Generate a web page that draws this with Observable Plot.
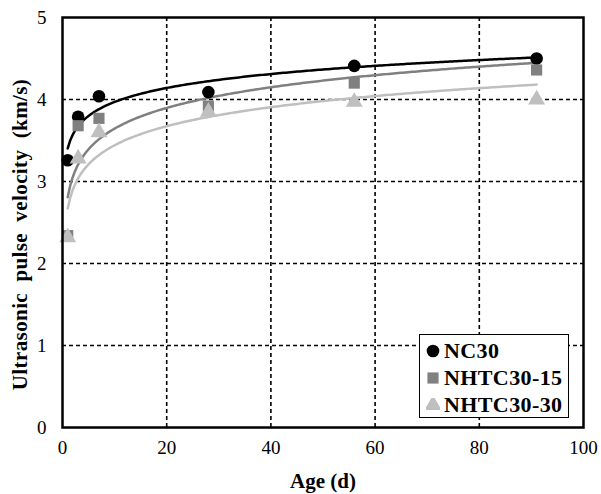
<!DOCTYPE html>
<html><head><meta charset="utf-8">
<script src="https://cdn.jsdelivr.net/npm/d3@7"></script>
<script src="https://cdn.jsdelivr.net/npm/@observablehq/plot@0.6"></script>
<style>
body{margin:0;background:#fff;}
#wrap{position:relative;width:601px;height:494px;font-family:"Liberation Serif","Times New Roman",serif;}
#wrap svg{font-family:"Liberation Serif","Times New Roman",serif;color:#000;}
#legend{position:absolute;left:419px;top:334px;width:150px;height:84px;border:1px solid #000;background:#fff;box-sizing:border-box;padding-top:2px;}
#legend .row{display:flex;align-items:center;height:27px;font-weight:bold;font-size:22px;letter-spacing:0.4px;}
#legend svg{margin-left:6px;margin-right:4px;}
</style></head><body><div id="wrap"></div>
<script>
const ages = [1, 3, 7, 28, 56, 91];
const nc30 = [3.26, 3.79, 4.04, 4.09, 4.41, 4.50];
const nhtc30_15 = [2.34, 3.68, 3.77, 3.92, 4.20, 4.36];
const nhtc30_30 = [2.32, 3.28, 3.60, 3.85, 3.97, 4.00];
const seriesNames = ["NC30", "NHTC30-15", "NHTC30-30"];
const seriesColors = ["#000000", "#808080", "#bfbfbf"];
const seriesSymbols = ["circle", "square", "triangle"];
const xTicks = [0, 20, 40, 60, 80, 100];
const yTicks = [0, 1, 2, 3, 4, 5];
const xGrid = [20, 40, 60, 80];
const yGrid = [1, 2, 3, 4];

const seriesValues = [nc30, nhtc30_15, nhtc30_30];
const points = [];
seriesValues.forEach((vals, s) => vals.forEach((v, i) => points.push({series: seriesNames[s], age: ages[i], v})));

// logarithmic trendlines (least squares of v on ln(age)), as in the source chart
const curves = [];
seriesValues.forEach((vals, s) => {
  const lx = ages.map(Math.log);
  const mx = d3.mean(lx), my = d3.mean(vals);
  const sxy = d3.sum(lx, (x, i) => (x - mx) * (vals[i] - my));
  const sxx = d3.sum(lx, x => (x - mx) ** 2);
  const a = sxy / sxx, b = my - a * mx;
  const x0 = d3.min(ages), x1 = d3.max(ages);
  for (let t = 0; t <= 200; t++) {
    const x = x0 + (x1 - x0) * t / 200;
    curves.push({series: seriesNames[s], age: x, v: a * Math.log(x) + b});
  }
});

const chart = Plot.plot({
  width: 601, height: 494,
  marginLeft: 62, marginRight: 18, marginTop: 17, marginBottom: 67,
  style: {fontFamily: '"Liberation Serif","Times New Roman",serif', background: "#fff"},
  x: {domain: [0, 100]},
  y: {domain: [0, 5]},
  color: {domain: seriesNames, range: seriesColors},
  symbol: {domain: seriesNames, range: seriesSymbols},
  marks: [
    Plot.ruleX(xGrid, {stroke: "#000", strokeWidth: 1.6, strokeDasharray: "4,3"}),
    Plot.ruleY(yGrid, {stroke: "#000", strokeWidth: 1.6, strokeDasharray: "4,3"}),
    Plot.line(curves, {x: "age", y: "v", z: "series", stroke: "series", strokeWidth: 2.5}),
    Plot.dot(points, {x: "age", y: "v", fill: "series", symbol: "series", r: 6.3, stroke: "none"}),
    Plot.frame({stroke: "#000", strokeWidth: 2.5}),
    Plot.axisX({ticks: xTicks, tickSize: 0, tickPadding: 13, fontSize: 19, tickFormat: d => String(d),
      label: "Age (d)", labelAnchor: "center", labelArrow: "none", labelOffset: 60}),
    Plot.axisY({ticks: yTicks, tickSize: 0, tickPadding: 16, fontSize: 19, tickFormat: d => String(d),
      label: "Ultrasonic\u00a0\u00a0pulse\u00a0\u00a0velocity\u00a0\u00a0(km/s)", labelAnchor: "center", labelArrow: "none", labelOffset: 50})
  ]
});
chart.querySelectorAll('g[aria-label="x-axis label"], g[aria-label="y-axis label"]').forEach(g => {
  g.querySelectorAll("text").forEach(t => { t.style.fontSize = "21px"; t.style.fontWeight = "bold"; });
});
const yl = chart.querySelector('g[aria-label="y-axis label"]');
if (yl) {
  yl.querySelectorAll("text").forEach(t => { t.style.letterSpacing = "0.4px"; });
  yl.setAttribute("transform", ((yl.getAttribute("transform") || "") + " translate(0,12)").trim());
}
const wrap = document.getElementById("wrap");
wrap.appendChild(chart);

// legend
const legend = document.createElement("div");
legend.id = "legend";
const symPaths = {circle: d3.symbolCircle, square: d3.symbolSquare, triangle: d3.symbolTriangle};
seriesNames.forEach((name, i) => {
  const row = document.createElement("div");
  row.className = "row";
  const path = d3.symbol(symPaths[seriesSymbols[i]], Math.PI * 6.3 * 6.3)();
  row.innerHTML = `<svg width="14" height="14" viewBox="-7 -7 14 14"><path d="${path}" fill="${seriesColors[i]}"/></svg><span>${name}</span>`;
  legend.appendChild(row);
});
wrap.appendChild(legend);
</script>
</body></html>
